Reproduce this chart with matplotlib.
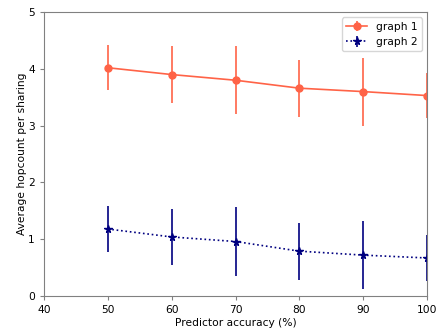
import matplotlib
matplotlib.use("Agg")
import matplotlib.pyplot as plt

# Data
accuracy = [50, 60, 70, 80, 90, 100]
graph1 = [4.02, 3.90, 3.80, 3.66, 3.60, 3.53]
graph1_err = [0.40, 0.50, 0.60, 0.50, 0.60, 0.40]
graph2 = [1.18, 1.04, 0.96, 0.79, 0.72, 0.67]
graph2_err = [0.40, 0.50, 0.60, 0.50, 0.60, 0.40]

plt.rcParams['font.size'] = 7.7

fig = plt.figure(figsize=(4.38, 3.36), dpi=100)
ax = fig.add_axes([0.1005, 0.119, 0.8745, 0.845])

ax.errorbar(accuracy, graph1, yerr=graph1_err, color='tomato', marker='o',
            markersize=5, linestyle='-', linewidth=1.2, label='graph 1')
ax.errorbar(accuracy, graph2, yerr=graph2_err, color='navy', marker='*',
            markersize=5.5, linestyle=':', linewidth=1.2, label='graph 2')

ax.set_xlim(40, 100)
ax.set_ylim(0, 5)
ax.set_xticks(range(40, 101, 10))
ax.set_yticks(range(0, 6))
ax.set_xlabel('Predictor accuracy (%)', labelpad=2)
ax.set_ylabel('Average hopcount per sharing', labelpad=1)

for side in ax.spines.values():
    side.set_color('gray')
ax.tick_params(color='gray', length=3)

ax.legend(loc='upper right')

fig.savefig('out.png', dpi=100)
